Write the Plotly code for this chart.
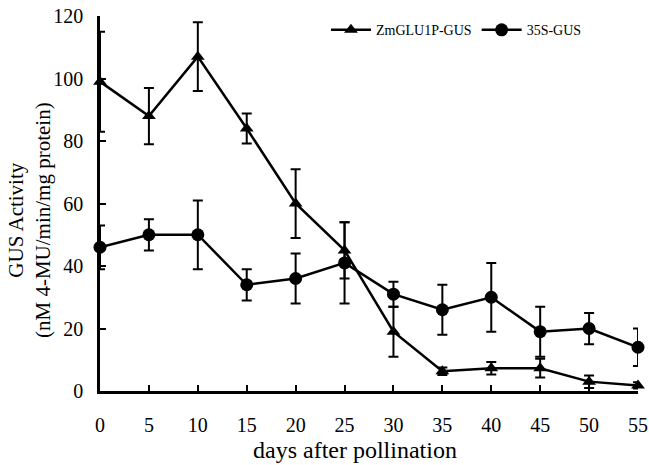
import plotly.graph_objects as go

days = [0, 5, 10, 15, 20, 25, 30, 35, 40, 45, 50, 55]
zm_vals = [99, 88, 107, 84, 60, 45, 19, 6.3, 7.3, 7.3, 3, 1.8]
zm_err = [16, 9, 11, 4.8, 11, 9, 8, 1.2, 2, 3, 2, 1]
s35_vals = [46, 50, 50, 34, 36, 41, 31, 26, 30, 19, 20, 14]
s35_err = [7, 5, 11, 5, 8, 13, 4, 8, 11, 8, 5, 6]
x_ticks = [0, 5, 10, 15, 20, 25, 30, 35, 40, 45, 50, 55]
y_ticks = [0, 20, 40, 60, 80, 100, 120]

FONT = "Liberation Serif, Times New Roman, serif"

fig = go.Figure()
fig.add_trace(go.Scatter(
    x=days, y=zm_vals, name="ZmGLU1P-GUS", mode="lines+markers",
    line=dict(color="black", width=2.5),
    marker=dict(symbol="triangle-up", size=12, color="black"),
    error_y=dict(type="data", array=zm_err, visible=True, color="black", thickness=2, width=5),
    cliponaxis=False,
))
fig.add_trace(go.Scatter(
    x=days, y=s35_vals, name="35S-GUS", mode="lines+markers",
    line=dict(color="black", width=2.5),
    marker=dict(symbol="circle", size=13, color="black"),
    error_y=dict(type="data", array=s35_err, visible=True, color="black", thickness=2, width=5),
    cliponaxis=False,
))

fig.update_layout(
    width=649, height=465,
    margin=dict(l=100, r=11, t=16, b=74, autoexpand=False),
    paper_bgcolor="white", plot_bgcolor="white",
    font=dict(family=FONT, color="black", size=16),
    showlegend=True,
    legend=dict(orientation="h", x=0.42, y=0.962, xanchor="left", yanchor="middle",
                font=dict(family=FONT, size=14), bgcolor="rgba(0,0,0,0)",
                itemwidth=40, tracegroupgap=0),
    xaxis=dict(range=[0, 55], tickvals=x_ticks, ticks="inside", ticklen=6, tickwidth=2,
               tickcolor="black", showline=True, linecolor="black", linewidth=2.5,
               showgrid=False, zeroline=False, tickfont=dict(size=20, family=FONT),
               ticklabelstandoff=14, automargin=False),
    yaxis=dict(range=[0, 120], tickvals=y_ticks, ticks="inside", ticklen=6, tickwidth=2,
               tickcolor="black", showline=True, linecolor="black", linewidth=2.5,
               showgrid=False, zeroline=False, tickfont=dict(size=20, family=FONT),
               ticklabelstandoff=10, automargin=False),
    annotations=[
        dict(text="days after pollination", xref="paper", yref="paper",
             x=(355 - 100) / 538, y=-(450 - 391) / 375, xanchor="center", yanchor="middle",
             showarrow=False, font=dict(size=24, family=FONT)),
        dict(text="GUS Activity<br>(nM 4-MU/min/mg protein)", xref="paper", yref="paper",
             x=(29 - 100) / 538, y=(391 - 220) / 375, xanchor="center", yanchor="middle",
             textangle=-90, showarrow=False, font=dict(size=21, family=FONT)),
    ],
)

fig.write_html("out.html", config={"displayModeBar": False},
               post_script="document.body.style.margin='0';")
